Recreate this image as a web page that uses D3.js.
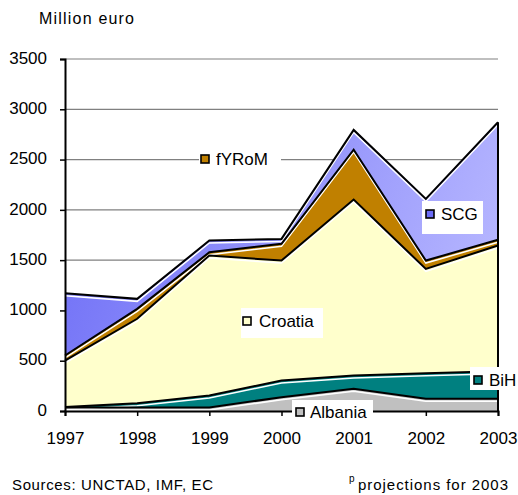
<!DOCTYPE html>
<html>
<head>
<meta charset="utf-8">
<script src="https://cdn.jsdelivr.net/npm/d3@7"></script>
<style>
  body { margin: 0; background: #fff; }
  text { font-family: "Liberation Sans", Arial, sans-serif; fill: #000; }
</style>
</head>
<body>
<div id="vis"></div>
<script>
// data, million euro
var years = [1997, 1998, 1999, 2000, 2001, 2002, 2003];
var albania = [35, 35, 35, 137, 220, 121, 121];
var bih = [5, 43, 120, 166, 133, 255, 275];
var croatia = [462, 839, 1391, 1193, 1749, 1037, 1249];
var fyrom = [50, 99, 32, 166, 497, 83, 57];
var scg = [619, 99, 117, 49, 196, 613, 1169];
var seriesNames = ['Albania', 'BiH', 'Croatia', 'fYRoM', 'SCG'];
var yTicks = [0, 500, 1000, 1500, 2000, 2500, 3000, 3500];

var width = 518, height = 495;
var margin = { top: 59, left: 65, bottom: 84, right: 20 };

var svg = d3.select('#vis').append('svg')
    .attr('width', width)
    .attr('height', height);

var x = d3.scaleLinear()
    .domain([1997, 2003])
    .range([margin.left, width - margin.right]);
var y = d3.scaleLinear()
    .domain([0, 3500])
    .range([height - margin.bottom, margin.top]);

// gradient for SCG
var defs = svg.append('defs');
var grad = defs.append('linearGradient')
    .attr('id', 'scgGrad')
    .attr('gradientUnits', 'userSpaceOnUse')
    .attr('x1', 65).attr('y1', 110)
    .attr('x2', 498).attr('y2', 260);
grad.append('stop').attr('offset', '0%').attr('stop-color', '#6c6cf6');
grad.append('stop').attr('offset', '100%').attr('stop-color', '#b6b6ff');

var colors = {
    'Albania': '#c0c0c0',
    'BiH': '#008080',
    'Croatia': '#ffffcc',
    'fYRoM': '#c08000',
    'SCG': 'url(#scgGrad)'
};
var markerColors = {
    'Albania': '#c0c0c0', 'BiH': '#008080', 'Croatia': '#ffffcc',
    'fYRoM': '#c08000', 'SCG': '#6c6cf6'
};

var table = years.map(function (yr, i) {
    return { year: yr, Albania: albania[i], BiH: bih[i], Croatia: croatia[i], fYRoM: fyrom[i], SCG: scg[i] };
});
var stacked = d3.stack().keys(seriesNames)(table);

// gridlines
svg.append('g').selectAll('line')
    .data(yTicks.filter(function (d) { return d > 0; }))
    .join('line')
    .attr('x1', x(1997)).attr('x2', x(2003))
    .attr('y1', function (d) { return y(d); })
    .attr('y2', function (d) { return y(d); })
    .attr('stroke', '#808080')
    .attr('stroke-width', 1.2);

// areas
var area = d3.area()
    .x(function (d) { return x(d.data.year); })
    .y0(function (d) { return y(d[0]); })
    .y1(function (d) { return y(d[1]); });
svg.append('g').selectAll('path')
    .data(stacked)
    .join('path')
    .attr('d', area)
    .attr('fill', function (d) { return colors[d.key]; })
    .attr('stroke', 'none');

// white shadow lines under top edges, then black top edges
var topLine = d3.line()
    .x(function (d) { return x(d.data.year); })
    .y(function (d) { return y(d[1]); });
svg.append('g').selectAll('path')
    .data(stacked)
    .join('path')
    .attr('d', topLine)
    .attr('transform', 'translate(0,2.5)')
    .attr('fill', 'none')
    .attr('stroke', '#fff')
    .attr('stroke-width', 1.5);
svg.append('g').selectAll('path')
    .data(stacked)
    .join('path')
    .attr('d', topLine)
    .attr('fill', 'none')
    .attr('stroke', '#000')
    .attr('stroke-width', 2)
    .attr('stroke-linejoin', 'miter');

// right edge at 2003
var last = stacked[stacked.length - 1][years.length - 1];
svg.append('line')
    .attr('x1', x(2003)).attr('x2', x(2003))
    .attr('y1', y(last[1])).attr('y2', y(0))
    .attr('stroke', '#000').attr('stroke-width', 2);

// axes
var yAxis = d3.axisLeft(y).tickValues(yTicks).tickFormat(d3.format('d')).tickSize(5).tickPadding(12);
var gy = svg.append('g')
    .attr('transform', 'translate(' + x(1997) + ',0)')
    .call(yAxis);
gy.select('.domain').attr('stroke', '#000').attr('stroke-width', 2);
gy.selectAll('.tick line').attr('stroke', '#000').attr('stroke-width', 1.5);
gy.selectAll('.tick text')
    .style('font-size', '17px')
    .attr('x', -18)
    .attr('dy', '0.25em')
    .style('font-family', '"Liberation Sans", Arial, sans-serif');

var xAxis = d3.axisBottom(x).tickValues(years).tickFormat(d3.format('d')).tickSize(5).tickPadding(14);
var gx = svg.append('g')
    .attr('transform', 'translate(0,' + y(0) + ')')
    .call(xAxis);
gx.select('.domain').attr('stroke', '#000').attr('stroke-width', 2);
gx.selectAll('.tick line').attr('stroke', '#000').attr('stroke-width', 1.5);
gx.selectAll('.tick text')
    .style('font-size', '17px')
    .attr('y', 21)
    .style('font-family', '"Liberation Sans", Arial, sans-serif');

// labels with white boxes
var labels = [
    { name: 'fYRoM', box: [199, 146, 82, 26], mx: 205, my: 159, tx: 216 },
    { name: 'SCG', box: [422, 201, 61, 33], mx: 430, my: 214, tx: 441 },
    { name: 'Croatia', box: [241, 308, 82, 30], mx: 247, my: 321, tx: 259 },
    { name: 'BiH', box: [470, 367, 48, 23], mx: 478, my: 380, tx: 489 },
    { name: 'Albania', box: [292, 400, 81, 20], mx: 300, my: 412, tx: 310 }
];
var lg = svg.append('g').selectAll('g')
    .data(labels)
    .join('g');
lg.append('rect')
    .attr('x', function (d) { return d.box[0]; })
    .attr('y', function (d) { return d.box[1]; })
    .attr('width', function (d) { return d.box[2]; })
    .attr('height', function (d) { return d.box[3]; })
    .attr('fill', '#fff');
lg.append('rect')
    .attr('x', function (d) { return d.mx - 4; })
    .attr('y', function (d) { return d.my - 4; })
    .attr('width', 8).attr('height', 8)
    .attr('fill', function (d) { return markerColors[d.name]; })
    .attr('stroke', '#000').attr('stroke-width', 1.6);
lg.append('text')
    .attr('x', function (d) { return d.tx; })
    .attr('y', function (d) { return d.my; })
    .attr('dy', '0.35em')
    .style('font-size', '17px')
    .text(function (d) { return d.name; });

// titles and notes
svg.append('text')
    .attr('x', 39).attr('y', 24)
    .style('font-size', '16px')
    .attr('textLength', 95)
    .attr('lengthAdjust', 'spacing')
    .text('Million euro');
svg.append('text')
    .attr('x', 12).attr('y', 490)
    .style('font-size', '15px')
    .attr('textLength', 201)
    .attr('lengthAdjust', 'spacing')
    .text('Sources: UNCTAD, IMF, EC');
svg.append('text')
    .attr('x', 349).attr('y', 482)
    .style('font-size', '10px')
    .text('p');
svg.append('text')
    .attr('x', 358).attr('y', 490)
    .style('font-size', '15px')
    .attr('textLength', 150)
    .attr('lengthAdjust', 'spacing')
    .text('projections for 2003');
</script>
</body>
</html>
